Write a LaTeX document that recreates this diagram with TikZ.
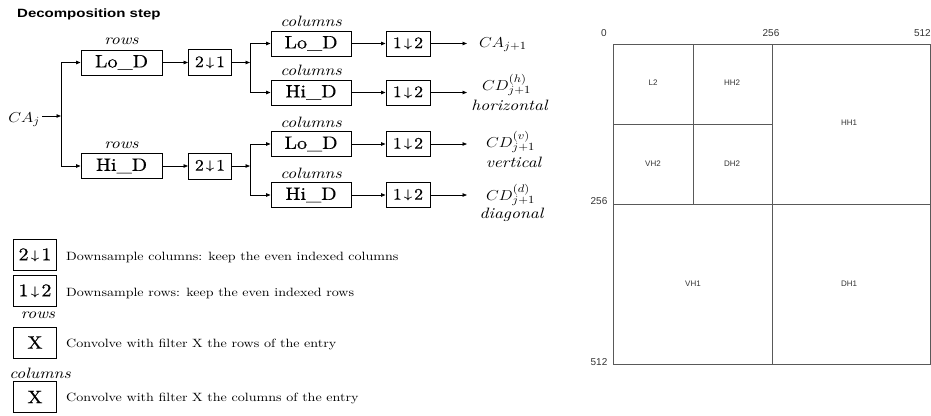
\documentclass[tikz,border=0pt]{standalone}
\usepackage{fontspec}
\usetikzlibrary{arrows.meta}
\newfontfamily\wrm{lmroman10}[Extension=.otf,UprightFont=*-regular,ItalicFont=*-italic,BoldFont=*-bold,FakeStretch=1.17]
\newfontfamily\wrb{lmroman10}[Extension=.otf,UprightFont=*-regular,ItalicFont=*-italic,BoldFont=*-bold,FakeStretch=1.12,FakeBold=0.35]
\newfontfamily\sansf{Liberation Sans}
\newcommand{\dnar}{\hspace{0.12em}\raisebox{0.06em}{\scalebox{0.85}[0.72]{\boldmath$\downarrow$}}\hspace{0.12em}}
\newcommand{\wm}[1]{\scalebox{1.15}[1]{$#1$}}
\begin{document}
\begin{tikzpicture}[x=1pt,y=-1pt,
  filt/.style={draw, line width=0.9pt, minimum width=81pt, minimum height=25pt, inner sep=0pt, font=\wrb\fontsize{18}{20}\selectfont},
  dsbox/.style={draw, line width=0.9pt, minimum width=43pt, minimum height=26pt, inner sep=0pt, font=\wrb\fontsize{16}{18}\selectfont},
  dir/.style={font=\wrm\itshape\fontsize{15}{18}\selectfont, inner sep=0pt, anchor=base},
  conn/.style={line width=0.8pt},
  arr/.style={conn,-{Triangle[length=4.5pt,width=3.5pt]}},
  mlab/.style={font=\fontsize{15}{18}\selectfont, inner sep=0pt, anchor=base west},
  lgtext/.style={font=\wrm\fontsize{12}{14}\selectfont, inner sep=0pt, anchor=base west},
  lgbox/.style={draw, line width=0.9pt, minimum width=43pt, minimum height=31pt, inner sep=0pt, font=\wrb\fontsize{18}{20}\selectfont},
  gridline/.style={draw=black!65, line width=0.9pt},
  cell/.style={font=\sansf\fontsize{8}{9}\selectfont, text=black!80, inner sep=0pt},
  tick/.style={font=\sansf\fontsize{10}{12}\selectfont, text=black!80, inner sep=0pt}]
\useasboundingbox (0,0) rectangle (931,415);

% title
\node[font=\sansf\bfseries\fontsize{12}{14}\selectfont, anchor=west, inner sep=0pt] (title) at (17,14) {\scalebox{1.25}[1]{Decomposition step}};

% input
\node[mlab, anchor=base east] (caj) at (40,122) {\wm{CA_j}};
\coordinate (jA) at (61,116);

% row filters
\node[filt] (loR) at (121.5,62.5) {Lo\_D};
\node[filt] (hiR) at (121.5,166) {Hi\_D};
\node[dir] (rowsA) at ([yshift=5pt]loR.north) {rows};
\node[dir] (rowsB) at ([yshift=5pt]hiR.north) {rows};

\draw[arr] ([xshift=2pt]caj.east |- jA) -- (jA);
\draw[conn] (jA |- loR) -- (jA |- hiR);
\draw[arr] (jA |- loR) -- (loR.west);
\draw[arr] (jA |- hiR) -- (hiR.west);

% downsample columns
\node[dsbox] (dsA) at (210,62.5) {2\dnar1};
\node[dsbox] (dsB) at (210,166) {2\dnar1};
\draw[arr] (loR) -- (dsA);
\draw[arr] (hiR) -- (dsB);

\coordinate (jB) at (250,62.5);
\coordinate (jC) at (250,166);
\draw[arr] (dsA) -- (jB);
\draw[arr] (dsB) -- (jC);

% column filters
\node[filt, minimum width=80pt] (c1) at (311,43.5) {Lo\_D};
\node[filt, minimum width=80pt] (c2) at (311,92.5) {Hi\_D};
\node[filt, minimum width=80pt] (c3) at (311,144) {Lo\_D};
\node[filt, minimum width=80pt] (c4) at (311,195) {Hi\_D};
\node[dir] (colA) at ([yshift=4pt]c1.north) {columns};
\node[dir] (colB) at ([yshift=4pt]c2.north) {columns};
\node[dir] (colC) at ([yshift=4pt]c3.north) {columns};
\node[dir] (colD) at ([yshift=4pt]c4.north) {columns};

\draw[conn] (jB |- c1) -- (jB |- c2);
\draw[arr] (jB |- c1) -- (c1.west);
\draw[arr] (jB |- c2) -- (c2.west);
\draw[conn] (jC |- c3) -- (jC |- c4);
\draw[arr] (jC |- c3) -- (c3.west);
\draw[arr] (jC |- c4) -- (c4.west);

% downsample rows
\node[dsbox, minimum width=44pt, minimum height=25pt] (d1) at (408,43.5) {1\dnar2};
\node[dsbox, minimum width=44pt, minimum height=25pt] (d2) at (408,92.5) {1\dnar2};
\node[dsbox, minimum width=44pt, minimum height=25pt] (d3) at (408,144) {1\dnar2};
\node[dsbox, minimum width=44pt, minimum height=25pt] (d4) at (408,195) {1\dnar2};
\draw[arr] (c1) -- (d1);
\draw[arr] (c2) -- (d2);
\draw[arr] (c3) -- (d3);
\draw[arr] (c4) -- (d4);

% outputs
\coordinate (o1) at (467,43.5);
\coordinate (o2) at (467,92.5);
\coordinate (o3) at (467,144);
\coordinate (o4) at (467,195);
\draw[arr] (d1) -- (o1);
\draw[arr] (d2) -- (o2);
\draw[arr] (d3) -- (o3);
\draw[arr] (d4) -- (o4);

\node[mlab] (oCA) at (479,47) {\wm{CA_{j+1}}};
\node[mlab] (oH) at (482,90) {\wm{CD^{(h)}_{j+1}}};
\node[mlab] (oV) at (486,147) {\wm{CD^{(v)}_{j+1}}};
\node[mlab] (oD) at (486,200) {\wm{CD^{(d)}_{j+1}}};
\node[dir, anchor=center] (hz) at (509.5,105) {horizontal};
\node[dir, anchor=center] (vt) at (513.5,162.5) {vertical};
\node[dir, anchor=center] (dg) at (511.5,214.5) {diagonal};

% legend
\node[lgbox] (lg1) at (35,255) {2\dnar1};
\node[lgtext] (lt1) at (66,260) {Downsample columns: keep the even indexed columns};
\node[lgbox] (lg2) at (35,291) {1\dnar2};
\node[lgtext] (lt2) at (66,296) {Downsample rows: keep the even indexed rows};
\node[lgbox] (lg3) at (35,342.5) {X};
\node[dir] (lgr) at (38,318) {rows};
\node[lgtext] (lt3) at (66,347) {Convolve with filter X the rows of the entry};
\node[lgbox] (lg4) at (35,397) {X};
\node[dir] (lgc) at (40,378) {columns};
\node[lgtext] (lt4) at (66,401) {Convolve with filter X the columns of the entry};

% right panel
\draw[gridline] (613,44) rectangle (930,364);
\draw[gridline] (772,44) -- (772,364);
\draw[gridline] (613,204) -- (930,204);
\draw[gridline] (693,44) -- (693,204);
\draw[gridline] (613,124) -- (772,124);

\node[tick] (t0) at (604,33.5) {0};
\node[tick] (t256) at (771,33) {256};
\node[tick, anchor=east] (t512) at (931,33) {512};
\node[tick] (l256) at (599,201) {256};
\node[tick] (l512) at (599,362) {512};

\node[cell] (cL2) at (653,83) {L2};
\node[cell] (cHH2) at (732,83) {HH2};
\node[cell] (cVH2) at (653,164) {VH2};
\node[cell] (cDH2) at (732,164) {DH2};
\node[cell] (cHH1) at (849,123) {HH1};
\node[cell] (cVH1) at (693,284) {VH1};
\node[cell] (cDH1) at (849,284) {DH1};
\end{tikzpicture}
\end{document}
